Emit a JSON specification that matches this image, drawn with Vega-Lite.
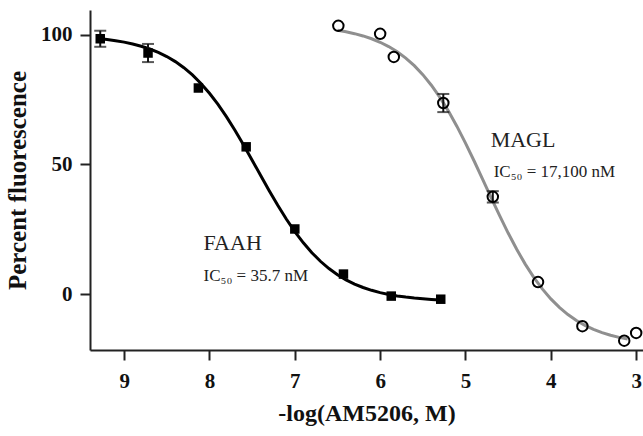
{
  "$schema": "https://vega.github.io/schema/vega-lite/v6.json",
  "width": 553,
  "height": 340,
  "autosize": {"type": "none"},
  "padding": {"left": 90, "top": 10, "right": 0, "bottom": 86},
  "background": "white",
  "config": {
    "view": {"stroke": null},
    "font": "Liberation Serif",
    "axis": {
      "grid": false,
      "domainColor": "#222",
      "domainWidth": 2,
      "tickColor": "#222",
      "tickWidth": 2,
      "tickSize": 10,
      "labelFont": "Liberation Serif",
      "labelFontWeight": "bold",
      "labelFontSize": 21,
      "labelColor": "#111",
      "titleFont": "Liberation Serif",
      "titleFontWeight": "bold",
      "titleColor": "#111"
    }
  },
  "datasets": {
    "curve": [
      {"enzyme": "FAAH", "x": 9.3, "y": 98.58}, {"enzyme": "FAAH", "x": 9.2, "y": 98.21}, {"enzyme": "FAAH", "x": 9.1, "y": 97.76}, {"enzyme": "FAAH", "x": 9.0, "y": 97.2}, {"enzyme": "FAAH", "x": 8.9, "y": 96.49}, {"enzyme": "FAAH", "x": 8.8, "y": 95.62}, {"enzyme": "FAAH", "x": 8.7, "y": 94.55}, {"enzyme": "FAAH", "x": 8.6, "y": 93.23}, {"enzyme": "FAAH", "x": 8.5, "y": 91.63}, {"enzyme": "FAAH", "x": 8.4, "y": 89.68}, {"enzyme": "FAAH", "x": 8.3, "y": 87.33}, {"enzyme": "FAAH", "x": 8.2, "y": 84.54}, {"enzyme": "FAAH", "x": 8.1, "y": 81.27}, {"enzyme": "FAAH", "x": 8.0, "y": 77.48}, {"enzyme": "FAAH", "x": 7.9, "y": 73.16}, {"enzyme": "FAAH", "x": 7.8, "y": 68.35}, {"enzyme": "FAAH", "x": 7.7, "y": 63.09}, {"enzyme": "FAAH", "x": 7.6, "y": 57.48}, {"enzyme": "FAAH", "x": 7.5, "y": 51.64}, {"enzyme": "FAAH", "x": 7.4, "y": 45.72}, {"enzyme": "FAAH", "x": 7.3, "y": 39.87}, {"enzyme": "FAAH", "x": 7.2, "y": 34.24}, {"enzyme": "FAAH", "x": 7.1, "y": 28.95}, {"enzyme": "FAAH", "x": 7.0, "y": 24.11}, {"enzyme": "FAAH", "x": 6.9, "y": 19.77}, {"enzyme": "FAAH", "x": 6.8, "y": 15.95}, {"enzyme": "FAAH", "x": 6.7, "y": 12.64}, {"enzyme": "FAAH", "x": 6.6, "y": 9.83}, {"enzyme": "FAAH", "x": 6.5, "y": 7.46}, {"enzyme": "FAAH", "x": 6.4, "y": 5.48}, {"enzyme": "FAAH", "x": 6.3, "y": 3.85}, {"enzyme": "FAAH", "x": 6.2, "y": 2.52}, {"enzyme": "FAAH", "x": 6.1, "y": 1.43}, {"enzyme": "FAAH", "x": 6.0, "y": 0.55}, {"enzyme": "FAAH", "x": 5.9, "y": -0.16}, {"enzyme": "FAAH", "x": 5.8, "y": -0.73}, {"enzyme": "FAAH", "x": 5.7, "y": -1.19}, {"enzyme": "FAAH", "x": 5.6, "y": -1.56}, {"enzyme": "FAAH", "x": 5.5, "y": -1.85}, {"enzyme": "FAAH", "x": 5.4, "y": -2.08}, {"enzyme": "FAAH", "x": 5.3, "y": -2.27},
      {"enzyme": "MAGL", "x": 6.5, "y": 101.75}, {"enzyme": "MAGL", "x": 6.4, "y": 101.18}, {"enzyme": "MAGL", "x": 6.3, "y": 100.47}, {"enzyme": "MAGL", "x": 6.2, "y": 99.59}, {"enzyme": "MAGL", "x": 6.1, "y": 98.5}, {"enzyme": "MAGL", "x": 6.0, "y": 97.15}, {"enzyme": "MAGL", "x": 5.9, "y": 95.5}, {"enzyme": "MAGL", "x": 5.8, "y": 93.48}, {"enzyme": "MAGL", "x": 5.7, "y": 91.04}, {"enzyme": "MAGL", "x": 5.6, "y": 88.12}, {"enzyme": "MAGL", "x": 5.5, "y": 84.65}, {"enzyme": "MAGL", "x": 5.4, "y": 80.58}, {"enzyme": "MAGL", "x": 5.3, "y": 75.89}, {"enzyme": "MAGL", "x": 5.2, "y": 70.58}, {"enzyme": "MAGL", "x": 5.1, "y": 64.67}, {"enzyme": "MAGL", "x": 5.0, "y": 58.24}, {"enzyme": "MAGL", "x": 4.9, "y": 51.42}, {"enzyme": "MAGL", "x": 4.8, "y": 44.36}, {"enzyme": "MAGL", "x": 4.7, "y": 37.23}, {"enzyme": "MAGL", "x": 4.6, "y": 30.22}, {"enzyme": "MAGL", "x": 4.5, "y": 23.52}, {"enzyme": "MAGL", "x": 4.4, "y": 17.26}, {"enzyme": "MAGL", "x": 4.3, "y": 11.54}, {"enzyme": "MAGL", "x": 4.2, "y": 6.44}, {"enzyme": "MAGL", "x": 4.1, "y": 1.97}, {"enzyme": "MAGL", "x": 4.0, "y": -1.89}, {"enzyme": "MAGL", "x": 3.9, "y": -5.17}, {"enzyme": "MAGL", "x": 3.8, "y": -7.92}, {"enzyme": "MAGL", "x": 3.7, "y": -10.21}, {"enzyme": "MAGL", "x": 3.6, "y": -12.1}, {"enzyme": "MAGL", "x": 3.5, "y": -13.64}, {"enzyme": "MAGL", "x": 3.4, "y": -14.89}, {"enzyme": "MAGL", "x": 3.3, "y": -15.91}, {"enzyme": "MAGL", "x": 3.2, "y": -16.73}, {"enzyme": "MAGL", "x": 3.1, "y": -17.39}
    ],
    "points": [
      {"enzyme": "FAAH", "x": 9.28, "y": 98.5}, {"enzyme": "FAAH", "x": 8.72, "y": 93.0}, {"enzyme": "FAAH", "x": 8.13, "y": 79.5}, {"enzyme": "FAAH", "x": 7.57, "y": 56.8}, {"enzyme": "FAAH", "x": 7.0, "y": 25.1}, {"enzyme": "FAAH", "x": 6.43, "y": 7.7}, {"enzyme": "FAAH", "x": 5.87, "y": -0.8}, {"enzyme": "FAAH", "x": 5.29, "y": -2.0},
      {"enzyme": "MAGL", "x": 6.49, "y": 103.5}, {"enzyme": "MAGL", "x": 6.0, "y": 100.4}, {"enzyme": "MAGL", "x": 5.84, "y": 91.5}, {"enzyme": "MAGL", "x": 5.26, "y": 73.7}, {"enzyme": "MAGL", "x": 4.68, "y": 37.5}, {"enzyme": "MAGL", "x": 4.15, "y": 4.6}, {"enzyme": "MAGL", "x": 3.63, "y": -12.4}, {"enzyme": "MAGL", "x": 3.14, "y": -18.0}, {"enzyme": "MAGL", "x": 3.0, "y": -15.0}
    ],
    "errors": [
      {"enzyme": "FAAH", "x": 9.28, "lo": 95.4, "hi": 101.6},
      {"enzyme": "FAAH", "x": 8.72, "lo": 89.5, "hi": 96.5},
      {"enzyme": "MAGL", "x": 5.26, "lo": 70.2, "hi": 77.2},
      {"enzyme": "MAGL", "x": 4.68, "lo": 35.3, "hi": 39.7}
    ],
    "labels": [
      {"x": 8.07, "y": 19.7, "text": "FAAH", "size": "big"},
      {"x": 8.07, "y": 6.9, "text": "IC₅₀ = 35.7 nM", "size": "small"},
      {"x": 4.705, "y": 59.5, "text": "MAGL", "size": "big"},
      {"x": 4.67, "y": 47.1, "text": "IC₅₀ = 17,100 nM", "size": "small"}
    ]
  },
  "encoding": {
    "x": {
      "field": "x", "type": "quantitative",
      "scale": {"domain": [9.4, 2.92], "nice": false, "zero": false},
      "axis": {"values": [3, 4, 5, 6, 7, 8, 9], "title": "-log(AM5206, M)", "titleFontSize": 24, "labelPadding": 10, "titlePadding": 10}
    },
    "y": {
      "field": "y", "type": "quantitative",
      "scale": {"domain": [-21.6, 109.6], "nice": false, "zero": false},
      "axis": {"values": [0, 50, 100], "title": "Percent fluorescence", "titleFontSize": 25, "labelPadding": 8, "titlePadding": 10}
    }
  },
  "layer": [
    {
      "data": {"name": "curve"},
      "mark": {"type": "line", "strokeWidth": 3, "clip": true},
      "encoding": {
        "detail": {"field": "enzyme"},
        "color": {"field": "enzyme", "type": "nominal", "scale": {"domain": ["FAAH", "MAGL"], "range": ["#000000", "#8f8f8f"]}, "legend": null}
      }
    },
    {
      "data": {"name": "errors"},
      "mark": {"type": "errorbar", "color": "#111", "ticks": {"size": 12, "thickness": 2}, "rule": {"strokeWidth": 2}},
      "encoding": {
        "y": {"field": "lo", "type": "quantitative"},
        "y2": {"field": "hi"}
      }
    },
    {
      "data": {"name": "points"},
      "transform": [{"filter": "datum.enzyme == 'FAAH'"}],
      "mark": {"type": "square", "size": 90, "color": "#000", "opacity": 1, "filled": true}
    },
    {
      "data": {"name": "points"},
      "transform": [{"filter": "datum.enzyme == 'MAGL'"}],
      "mark": {"type": "point", "shape": "circle", "size": 110, "stroke": "#000", "strokeWidth": 2, "fill": "white", "fillOpacity": 0, "opacity": 1}
    },
    {
      "data": {"name": "labels"},
      "transform": [{"filter": "datum.size == 'big'"}],
      "mark": {"type": "text", "align": "left", "baseline": "middle", "fontSize": 22, "font": "Liberation Serif", "color": "#222"},
      "encoding": {"text": {"field": "text"}}
    },
    {
      "data": {"name": "labels"},
      "transform": [{"filter": "datum.size == 'small'"}],
      "mark": {"type": "text", "align": "left", "baseline": "middle", "fontSize": 17, "font": "Liberation Serif", "color": "#222"},
      "encoding": {"text": {"field": "text"}}
    }
  ]
}
